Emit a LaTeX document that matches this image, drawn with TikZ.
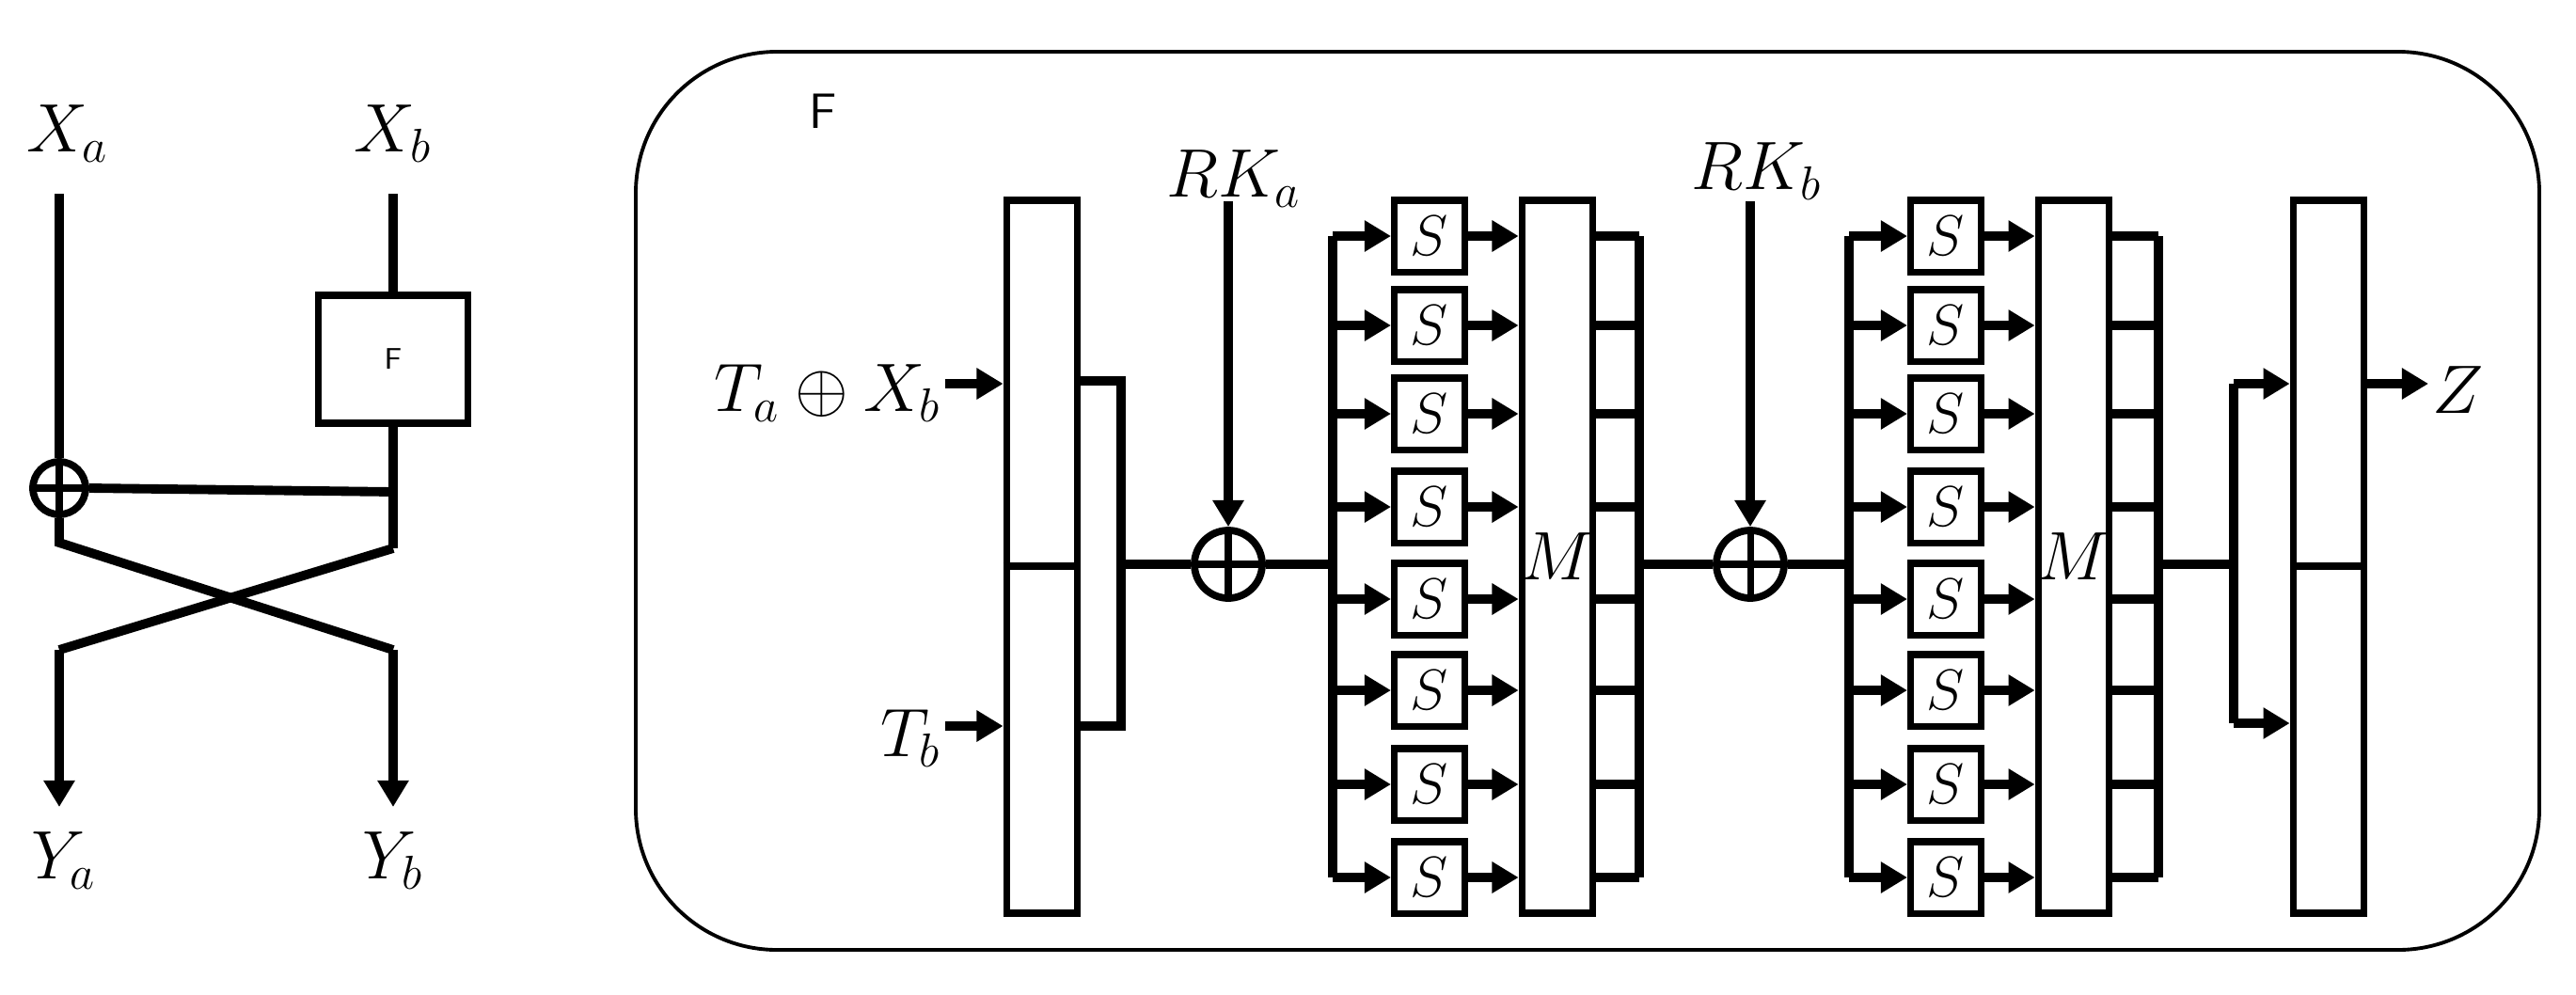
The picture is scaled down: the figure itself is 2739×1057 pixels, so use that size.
\documentclass[tikz,border=0pt]{standalone}
\usepackage{tikz}
\usetikzlibrary{arrows.meta}
\begin{document}
\begin{tikzpicture}[x=0.01cm,y=-0.01cm,
  wire/.style={line width=2.8pt},
  arr/.style={wire,-{Triangle[length=8pt,width=9pt]}},
  lab/.style={font=\fontsize{20}{24}\selectfont,inner sep=1pt},
  blk/.style={draw,line width=2.2pt,minimum width=0.75cm,minimum height=7.58cm,inner sep=0pt},
  sbox/.style={draw,line width=2pt,minimum width=0.75cm,minimum height=0.76cm,inner sep=0pt,font=\fontsize{18}{20}\selectfont},
  xor/.style={draw,line width=2.2pt,circle,minimum size=#1,inner sep=0pt,
    path picture={\draw[line width=2pt] (path picture bounding box.north) -- (path picture bounding box.south)
      (path picture bounding box.west) -- (path picture bounding box.east);}},
]
\useasboundingbox (0,0) rectangle (2739,1057);

% ---- Feistel round on the left
\node[lab] (xa) at (72,142) {$X_a$};
\node[lab] (xb) at (418,142) {$X_b$};
\node[lab] (ya) at (68,915) {$Y_a$};
\node[lab] (yb) at (418,915) {$Y_b$};
\node[draw,line width=2.2pt,minimum width=1.59cm,minimum height=1.36cm,font=\sffamily\small] (f) at (418,382) {F};
\node[xor=0.56cm] (x0) at (63,519) {};
\coordinate (la) at (63,206);
\coordinate (ra) at (418,206);
\coordinate (rj) at (418,523);
\coordinate (lb) at (63,577);
\coordinate (rb) at (418,583);
\coordinate (lc) at (63,691);
\coordinate (rc) at (418,691);
\draw[wire] (la) -- (x0.north);
\draw[wire] (ra) -- (f.north);
\draw[wire] (f.south) -- (rb);
\draw[wire] (x0.east) -- (rj);
\draw[wire] (x0.south) -- (lb) -- (rc);
\draw[wire] (rb) -- (lc);
\draw[arr] (lc) -- (63,858);
\draw[arr] (rc) -- (418,858);

% ---- the F function
\draw[line width=1.1pt,rounded corners=1.5cm] (676,55) rectangle (2700,1010);
\node[font=\sffamily\fontsize{15}{18}\selectfont] (ft) at (875,118) {F};

\node[blk] (t) at (1108,592) {};
\draw[line width=2.2pt] (t.west |- 0,602) -- (t.east |- 0,602);
\node[lab,anchor=east] (tin) at (1005,418) {$T_a\oplus X_b$};
\node[lab,anchor=east] (tb) at (1005,785) {$T_b$};
\draw[arr] (tin.east |- 0,408) -- (t.west |- 0,408);
\draw[arr] (tb.east |- 0,772) -- (t.west |- 0,772);
\draw[wire] (t.east |- 0,405) -- (1192,405) -- (1192,772) -- (t.east |- 0,772);

\node[xor=0.72cm] (k1) at (1306,600) {};
\node[lab] (rka) at (1312,190) {$RK_a$};
\draw[arr] (1306,214) -- (k1.north);
\draw[wire] (1192,600) -- (k1.west);
\draw[wire] (k1.east) -- (1417,600);

\node[xor=0.72cm] (k2) at (1861,600) {};
\node[lab] (rkb) at (1868,182) {$RK_b$};
\draw[arr] (1861,214) -- (k2.north);

\node[blk] (m1) at (1656,592) {};
\node[lab] at (m1) {$M$};
\node[blk] (m2) at (2205,592) {};
\node[lab] at (m2) {$M$};

\draw[wire] (1417,251) -- (1417,933);
\draw[wire] (1743,251) -- (1743,933);
\draw[wire] (1966,251) -- (1966,933);
\draw[wire] (2295,251) -- (2295,933);
\draw[wire] (1743,600) -- (k2.west);
\draw[wire] (k2.east) -- (1966,600);

\foreach \y [count=\i] in {251,346,440,539,637,734,834,933} {
  \node[sbox] (sa\i) at (1520,\y) {$S$};
  \node[sbox] (sb\i) at (2069,\y) {$S$};
  \draw[arr] (1417,\y) -- (sa\i.west);
  \draw[arr] (sa\i.east) -- (m1.west |- 0,\y);
  \draw[wire] (m1.east |- 0,\y) -- (1743,\y);
  \draw[arr] (1966,\y) -- (sb\i.west);
  \draw[arr] (sb\i.east) -- (m2.west |- 0,\y);
  \draw[wire] (m2.east |- 0,\y) -- (2295,\y);
}

\node[blk] (o) at (2476,592) {};
\draw[line width=2.2pt] (o.west |- 0,602) -- (o.east |- 0,602);
\draw[wire] (2295,600) -- (2375,600);
\draw[wire] (2375,408) -- (2375,769);
\draw[arr] (2375,408) -- (o.west |- 0,408);
\draw[arr] (2375,769) -- (o.west |- 0,769);
\node[lab,anchor=west] (z) at (2582,415) {$Z$};
\draw[arr] (o.east |- 0,408) -- (z.west |- 0,408);
\end{tikzpicture}
\end{document}
